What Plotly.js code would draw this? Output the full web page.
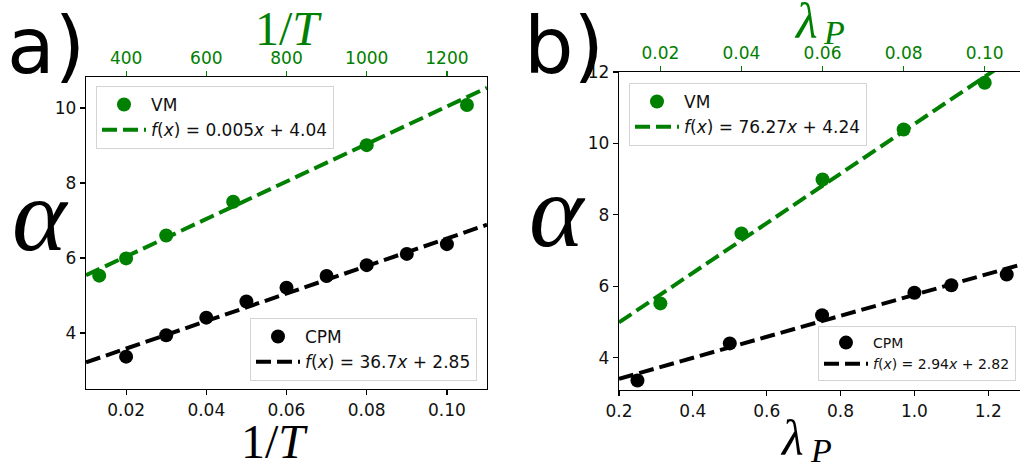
<!DOCTYPE html>
<html>
<head>
<meta charset="utf-8">
<script src="https://cdn.plot.ly/plotly-3.0.1.min.js"></script>
<style>html,body{margin:0;padding:0;background:#fff;}#chart{width:1020px;height:467px;}</style>
</head>
<body>
<div id="chart"></div>
<script>
// ---- Data ----
// Panel a): VM plotted against top axis (1/T scale 300..1300), CPM against bottom axis
const vmA_x = [333, 400, 500, 667, 1000, 1250];
const vmA_y = [5.53, 5.99, 6.60, 7.50, 9.01, 10.08];
const cpmA_x = [0.02, 0.03, 0.04, 0.05, 0.06, 0.07, 0.08, 0.09, 0.10];
const cpmA_y = [3.37, 3.94, 4.41, 4.84, 5.21, 5.52, 5.81, 6.11, 6.37];
// Fit parameters as printed in the legends
const fitVmA = {slope: 0.005, intercept: 4.04, label: "0.005"};
const fitCpmA = {slope: 36.7, intercept: 2.85, label: "36.7"};
// Panel b): VM against top axis (lambda_P 0.01..0.11), CPM against bottom axis
const vmB_x = [0.02, 0.04, 0.06, 0.08, 0.10];
const vmB_y = [5.52, 7.48, 8.99, 10.39, 11.70];
const cpmB_x = [0.25, 0.50, 0.75, 1.00, 1.10, 1.25];
const cpmB_y = [3.36, 4.40, 5.19, 5.82, 6.03, 6.33];
const fitVmB = {slope: 76.27, intercept: 4.24, label: "76.27"};
const fitCpmB = {slope: 2.94, intercept: 2.82, label: "2.94"};

// ---- Layout geometry ----
const W = 1020, H = 467;
const px = x => x / W;
const py = y => 1 - y / H;
const GREEN = '#008000';

const rA_bot = [0.01, 0.11], rA_top = [300, 1300], rA_y = [2.507, 10.827];
const rB_bot = [0.2, 1.286], rB_top = [0.0098, 0.1087], rB_y = [3.095, 12.0];

function fitLine(f, range) {
  return {x: range.slice(), y: range.map(v => f.slope * v + f.intercept)};
}
function fitName(f) {
  return '<i>f</i>(<i>x</i>) = ' + f.label + '<i>x</i> + ' + f.intercept.toFixed(2);
}

const dash = '15px,6px';
const mk = (c) => ({color: c, size: 14});

const lA1 = fitLine(fitVmA, rA_top), lA2 = fitLine(fitCpmA, rA_bot);
const lB1 = fitLine(fitVmB, rB_top), lB2 = fitLine(fitCpmB, rB_bot);

const traces = [
  {x: vmA_x, y: vmA_y, xaxis: 'x2', yaxis: 'y', mode: 'markers', marker: mk(GREEN), name: 'VM', legend: 'legend'},
  {x: lA1.x, y: lA1.y, xaxis: 'x2', yaxis: 'y', mode: 'lines', line: {color: GREEN, width: 4, dash: dash}, name: fitName(fitVmA), legend: 'legend'},
  {x: cpmA_x, y: cpmA_y, xaxis: 'x', yaxis: 'y', mode: 'markers', marker: mk('#000'), name: 'CPM', legend: 'legend2'},
  {x: lA2.x, y: lA2.y, xaxis: 'x', yaxis: 'y', mode: 'lines', line: {color: '#000', width: 4, dash: dash}, name: fitName(fitCpmA), legend: 'legend2'},
  {x: vmB_x, y: vmB_y, xaxis: 'x4', yaxis: 'y2', mode: 'markers', marker: mk(GREEN), name: 'VM', legend: 'legend3'},
  {x: lB1.x, y: lB1.y, xaxis: 'x4', yaxis: 'y2', mode: 'lines', line: {color: GREEN, width: 4, dash: dash}, name: fitName(fitVmB), legend: 'legend3'},
  {x: cpmB_x, y: cpmB_y, xaxis: 'x3', yaxis: 'y2', mode: 'markers', marker: mk('#000'), name: 'CPM', legend: 'legend4'},
  {x: lB2.x, y: lB2.y, xaxis: 'x3', yaxis: 'y2', mode: 'lines', line: {color: '#000', width: 4, dash: dash}, name: fitName(fitCpmB), legend: 'legend4'}
];

const tickFont = {family: 'DejaVu Sans', size: 17, color: '#111'};
const tickFontG = {family: 'DejaVu Sans', size: 17, color: GREEN};
const baseAx = {
  showgrid: false, zeroline: false, ticks: 'outside', ticklen: 5, tickwidth: 1.2,
  tickcolor: '#000', linecolor: '#000', linewidth: 1.3, fixedrange: true
};
const legBase = {
  bgcolor: 'rgba(255,255,255,0.9)', bordercolor: '#d4d4d4', borderwidth: 1,
  font: {family: 'DejaVu Sans', size: 17, color: '#111'}, tracegroupgap: 0, itemwidth: 44
};

const serif = 'Liberation Serif';
const layout = {
  width: W, height: H, margin: {l: 0, r: 0, t: 0, b: 0},
  paper_bgcolor: '#fff', plot_bgcolor: '#fff', showlegend: true,
  xaxis: Object.assign({}, baseAx, {domain: [px(86), px(487)], range: rA_bot, anchor: 'y',
    showline: true, mirror: true, tick0: 0, dtick: 0.02, tickformat: '.2f', tickfont: tickFont}),
  xaxis2: Object.assign({}, baseAx, {overlaying: 'x', side: 'top', anchor: 'y', range: rA_top,
    showline: false, tick0: 0, dtick: 200, tickcolor: GREEN, tickfont: tickFontG}),
  yaxis: Object.assign({}, baseAx, {domain: [py(389), py(77)], range: rA_y, anchor: 'x',
    showline: true, mirror: true, tick0: 0, dtick: 2, tickfont: tickFont}),
  xaxis3: Object.assign({}, baseAx, {domain: [px(619), 1], range: rB_bot, anchor: 'y2',
    showline: true, mirror: true, tick0: 0, dtick: 0.2, tickformat: '.1f', tickfont: tickFont}),
  xaxis4: Object.assign({}, baseAx, {overlaying: 'x3', side: 'top', anchor: 'y2', range: rB_top,
    showline: false, tick0: 0, dtick: 0.02, tickformat: '.2f', tickcolor: GREEN, tickfont: tickFontG}),
  yaxis2: Object.assign({}, baseAx, {domain: [py(390), py(72)], range: rB_y, anchor: 'x3',
    showline: true, mirror: false, tick0: 0, dtick: 2, tickfont: tickFont}),
  legend: Object.assign({}, legBase, {x: px(96), y: py(86), xanchor: 'left', yanchor: 'top'}),
  legend2: Object.assign({}, legBase, {x: px(477), y: py(381), xanchor: 'right', yanchor: 'bottom'}),
  legend3: Object.assign({}, legBase, {x: px(629), y: py(83), xanchor: 'left', yanchor: 'top'}),
  legend4: Object.assign({}, legBase, {x: px(1016), y: py(381), xanchor: 'right', yanchor: 'bottom',
    font: {family: 'DejaVu Sans', size: 14, color: '#111'}}),
  annotations: [
    {text: 'a)', x: px(46), y: py(46), font: {family: 'DejaVu Sans', size: 78, color: '#000'}},
    {text: 'b)', x: px(564), y: py(46), font: {family: 'DejaVu Sans', size: 78, color: '#000'}},
    {text: '1/<i>T</i>', x: px(288), y: py(28), font: {family: serif, size: 48, color: GREEN}},
    {text: '1/<i>T</i>', x: px(274), y: py(441), font: {family: serif, size: 48, color: '#000'}},
    {text: '<i>α</i>', x: px(40), y: py(214), font: {family: serif, size: 104, color: '#000'}},
    {text: '<i>α</i>', x: px(557), y: py(210), font: {family: serif, size: 104, color: '#000'}},
    {text: '<i>λ</i>', x: px(806), y: py(21), font: {family: serif, size: 50, color: GREEN}},
    {text: '<i>P</i>', x: px(834), y: py(33), font: {family: serif, size: 34, color: GREEN}},
    {text: '<i>λ</i>', x: px(792), y: py(438), font: {family: serif, size: 50, color: '#000'}},
    {text: '<i>P</i>', x: px(821), y: py(450), font: {family: serif, size: 34, color: '#000'}}
  ].map(a => Object.assign({xref: 'paper', yref: 'paper', showarrow: false, xanchor: 'center', yanchor: 'middle', borderpad: 0}, a))
};

Plotly.newPlot('chart', traces, layout, {staticPlot: true, displayModeBar: false});
</script>
</body>
</html>
